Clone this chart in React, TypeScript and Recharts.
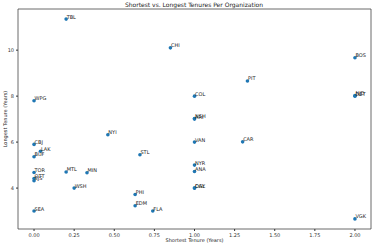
import React from 'react';
import {
    ScatterChart, Scatter, XAxis, YAxis, ReferenceArea
} from 'recharts';

// team abbreviations and their shortest / longest tenures (years)
const teams = [
    'TBL', 'WPG', 'CHI', 'COL', 'NSH', 'ARI', 'PIT', 'BOS', 'NJD', 'DET',
    'CBJ', 'LAK', 'BUF', 'NYI', 'TOR', 'OTT', 'SJS', 'MTL', 'MIN', 'WSH',
    'SEA', 'STL', 'PHI', 'EDM', 'FLA', 'VAN', 'CAR', 'NYR', 'ANA', 'DAL',
    'CGY', 'VGK'
];
const shortest = [
    0.2, 0, 0.85, 1, 1, 1, 1.33, 2, 2, 2,
    0, 0.04, 0, 0.46, 0, 0, 0, 0.2, 0.33, 0.25,
    0, 0.66, 0.63, 0.63, 0.74, 1, 1.3, 1, 1, 1,
    1, 2
];
const longest = [
    11.35, 7.8, 10.1, 8, 7.03, 7, 8.66, 9.67, 8.02, 8,
    5.9, 5.6, 5.36, 6.32, 4.68, 4.42, 4.32, 4.7, 4.67, 4,
    3, 5.45, 3.72, 3.23, 3, 6, 6.01, 5, 4.72, 4,
    4, 2.66
];
const xTicks = [0, 0.25, 0.5, 0.75, 1, 1.25, 1.5, 1.75, 2];
const yTicks = [4, 6, 8, 10];

const data = teams.map((t, i) => ({ name: t, x: shortest[i], y: longest[i] }));

const font = 'DejaVu Sans, sans-serif';

// dot plus its team label, anchored just right of / above the point
const Dot = (p: any) => (
    <g>
        <circle cx={p.cx} cy={p.cy} r={1.8} fill="#1f77b4" />
        <text x={p.cx + 0.5} y={p.cy - 0.5} fontSize={5} fontFamily={font} fill="#222">
            {p.payload.name}
        </text>
    </g>
);

const App: React.FC = () => {
    return (
        <div style={{ position: 'absolute', left: 0, top: 0, width: 374, height: 245 }}>
            <ScatterChart width={374} height={245}
                margin={{ top: 9, right: 3, left: 0, bottom: 0 }}>
                <text x={194} y={7} textAnchor="middle" fontSize={6} fontFamily={font} fill="#222">
                    Shortest vs. Longest Tenures Per Organization
                </text>
                <XAxis type="number" dataKey="x" domain={[-0.1, 2.1]} ticks={xTicks}
                    height={16} tickSize={2} tickMargin={2}
                    tickFormatter={(v: number) => v.toFixed(2)}
                    tick={{ fontSize: 5, fontFamily: font, fill: '#333' }}
                    axisLine={false} tickLine={{ stroke: '#333' }}
                    label={{ value: 'Shortest Tenure (Years)', position: 'insideBottom', offset: 3, fontSize: 5, fontFamily: font, fill: '#222' }} />
                <YAxis type="number" dataKey="y" domain={[2.22, 11.79]} ticks={yTicks}
                    width={18} tickSize={2} tickMargin={2}
                    tick={{ fontSize: 5, fontFamily: font, fill: '#333' }}
                    axisLine={false} tickLine={{ stroke: '#333' }}
                    label={{ value: 'Longest Tenure (Years)', angle: -90, position: 'insideLeft', offset: 5, fontSize: 5, fontFamily: font, fill: '#222', style: { textAnchor: 'middle' } }} />
                <ReferenceArea x1={-0.1} x2={2.1} y1={2.22} y2={11.79}
                    fill="none" stroke="#444" strokeWidth={0.8} ifOverflow="visible" />
                <Scatter data={data} fill="#1f77b4" isAnimationActive={false} shape={Dot} />
            </ScatterChart>
        </div>
    );
};

export default App;
